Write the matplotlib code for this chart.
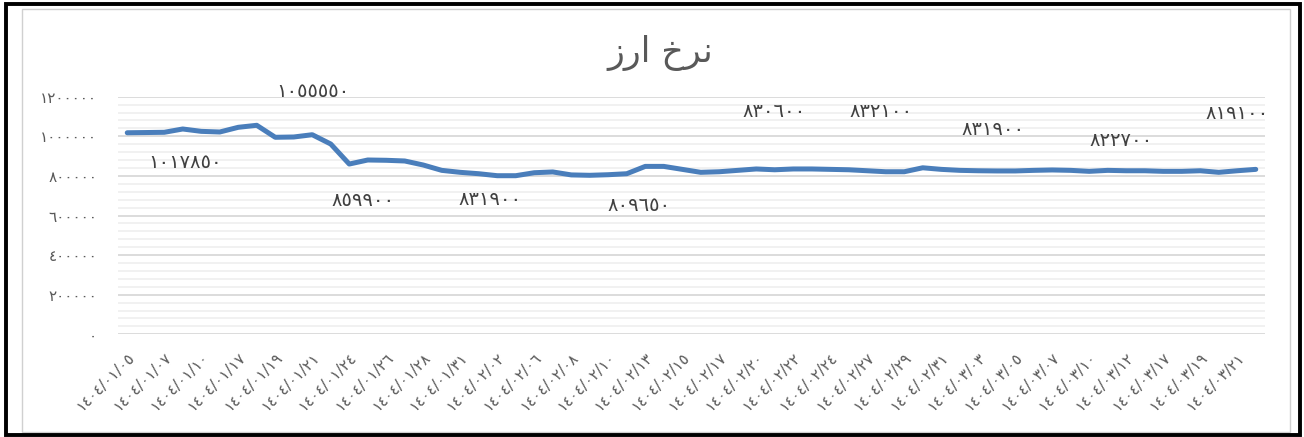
import matplotlib
matplotlib.use("Agg")
import matplotlib.pyplot as plt
from matplotlib.patches import Rectangle
from matplotlib.ticker import MultipleLocator, FixedLocator

# ---------------- data ----------------
dates = ["1404/01/05", "1404/01/07", "1404/01/10", "1404/01/17", "1404/01/19",
         "1404/01/21", "1404/01/24", "1404/01/26", "1404/01/28", "1404/01/31",
         "1404/02/02", "1404/02/06", "1404/02/08", "1404/02/10", "1404/02/13",
         "1404/02/15", "1404/02/17", "1404/02/20", "1404/02/22", "1404/02/24",
         "1404/02/27", "1404/02/29", "1404/02/31", "1404/03/03", "1404/03/05",
         "1404/03/07", "1404/03/10", "1404/03/12", "1404/03/17", "1404/03/19",
         "1404/03/21"]

rates = [1017850, 1019000, 1020200, 1036900, 1025000, 1021700, 1045400, 1055550,
         995000, 996500, 1008000, 961000, 859900, 880300, 878800, 875300,
         855000, 828000, 818000, 811000, 801000, 801000, 816000, 820000,
         805000, 803000, 806000, 811000, 848000, 848000, 833000, 818000,
         821000, 828000, 835000, 831000, 835000, 835000, 833000, 831000,
         826000, 821000, 821000, 841000, 833000, 828000, 826000, 825000,
         825000, 828000, 830000, 828000, 823000, 828000, 826000, 826000,
         823000, 823000, 826000, 818000, 826000, 833000]

label_values = [1017850, 1055550, 859900, 831900, 809650, 830600, 832100,
                831900, 822700, 819100]
label_index = [3, 10, 13, 20, 28, 35, 41, 47, 54, 60]

y_ticks = [0, 200000, 400000, 600000, 800000, 1000000, 1200000]

# title "نرخ ارز" in visual-order presentation forms
title_text = "\uFEAF\uFEAD\uFE8D \uFEA5\uFEAE\uFEE7"

# ---------------- helpers ----------------
AR = str.maketrans("0123456789", "\u0660\u0661\u0662\u0663\u0664\u0665\u0666\u0667\u0668\u0669")
def ar(s):
    return str(s).translate(AR)

W, H = 1304, 437
fig = plt.figure(figsize=(W / 100, H / 100), dpi=100)
fig.patch.set_facecolor("white")

ax = fig.add_axes([118 / W, 1 - 334.3 / H, (1265 - 118) / W, (334.3 - 96.7) / H])
ax.set_facecolor("white")

x = list(range(len(rates)))
ax.plot(x, rates, color="#4A7EBB", lw=3.6, solid_joinstyle="round",
        solid_capstyle="round", zorder=3)

ax.set_xlim(-0.5, len(rates) - 0.5)
ax.set_ylim(0, 1200000)

ax.yaxis.set_major_locator(FixedLocator(y_ticks))
ax.yaxis.set_minor_locator(MultipleLocator(40000))
ax.set_yticklabels([ar(v) for v in y_ticks], fontsize=11, color="#595959",
                   family=["DejaVu Sans"])
ax.grid(which="major", axis="y", color="#d9d9d9", lw=1.3, zorder=0)
ax.grid(which="minor", axis="y", color="#eeeeee", lw=1.1, zorder=0)
ax.tick_params(axis="y", which="both", length=0, pad=15)

xt = list(range(0, len(rates), 2))[:len(dates)]
ax.set_xticks(xt)
ax.set_xticklabels([ar(d) for d in dates], rotation=45, ha="right", va="top",
                   rotation_mode="anchor", fontsize=11, color="#595959",
                   family=["DejaVu Sans"])
ax.tick_params(axis="x", length=0, pad=11)
for s in ax.spines.values():
    s.set_visible(False)

offsets = [(2, -34), (1, 43), (-5, -40), (-7, -24), (-6, -39), (-1, 58),
           (-5, 60), (-4, 41), (-5, 30), (0, 57)]
for idx, val, off in zip(label_index, label_values, offsets):
    ax.annotate(ar(val), xy=(idx, rates[idx]), xytext=off,
                textcoords="offset pixels", ha="center", va="center",
                fontsize=14, color="#404040", family=["DejaVu Sans"],
                annotation_clip=False)

fig.text(660 / W, 1 - 53 / H, title_text, ha="center", va="center",
         fontsize=25, color="#595959", family=["DejaVu Sans"])

# borders
fig.add_artist(Rectangle((22 / W, 1 - 432 / H), (1290 - 22) / W, (432 - 9) / H,
                         transform=fig.transFigure, fill=False,
                         edgecolor="#d0d0d0", lw=1.0))
fig.add_artist(Rectangle((6 / W, 1 - 435 / H), (1300 - 6) / W, (435 - 4) / H,
                         transform=fig.transFigure, fill=False,
                         edgecolor="black", lw=2.8))

fig.savefig("out.png", dpi=100)
